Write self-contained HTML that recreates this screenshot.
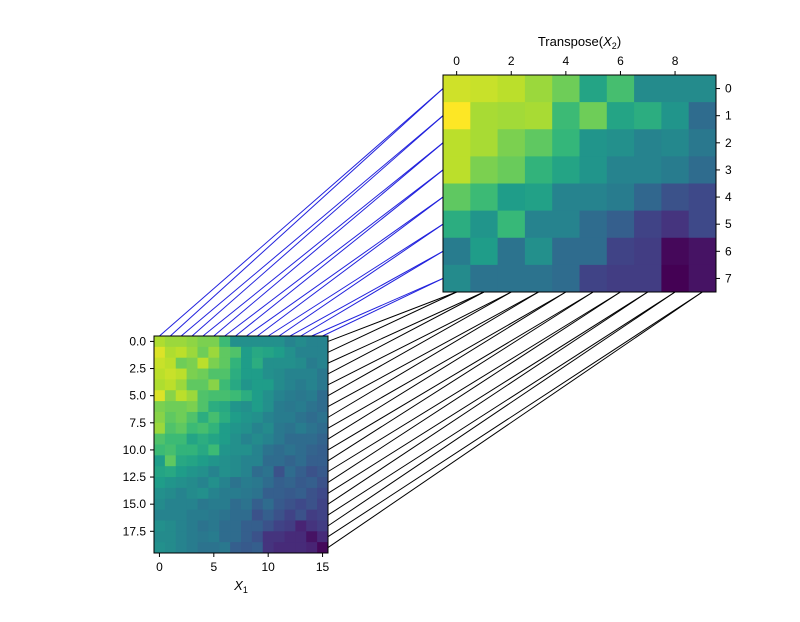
<!DOCTYPE html>
<html><head><meta charset="utf-8"><style>
body{margin:0;background:#fff;}
svg{display:block;font-family:"Liberation Sans","DejaVu Sans",sans-serif;}
</style></head><body>
<svg id="chart" width="800" height="622" viewBox="0 0 800 622">
<g id="lines"></g>
<g id="hmB"></g>
<g id="hmA"></g>
<g id="axes"></g>
</svg>
<script>
const x2Values = [
[0.93,0.92,0.90,0.85,0.78,0.58,0.70,0.48,0.48,0.48],
[1.00,0.87,0.86,0.87,0.68,0.78,0.58,0.62,0.52,0.35],
[0.90,0.87,0.80,0.75,0.66,0.52,0.50,0.45,0.47,0.40],
[0.90,0.80,0.77,0.65,0.58,0.52,0.45,0.45,0.42,0.35],
[0.75,0.68,0.55,0.57,0.45,0.45,0.42,0.33,0.25,0.22],
[0.62,0.52,0.67,0.45,0.45,0.35,0.30,0.20,0.15,0.22],
[0.42,0.55,0.38,0.50,0.35,0.35,0.20,0.18,0.02,0.05],
[0.48,0.38,0.38,0.38,0.35,0.20,0.18,0.18,0.00,0.05]];
const x1Values = [
[.88,.85,.85,.83,.80,.80,.68,.50,.50,.50,.50,.50,.45,.48,.45,.45],
[.95,.88,.90,.85,.78,.85,.75,.72,.55,.60,.58,.55,.50,.45,.45,.45],
[.92,.90,.78,.80,.90,.80,.75,.65,.55,.62,.50,.50,.50,.48,.42,.45],
[.90,.92,.90,.80,.78,.72,.72,.62,.55,.55,.50,.48,.45,.45,.45,.40],
[.88,.90,.85,.75,.75,.82,.68,.60,.52,.55,.55,.48,.45,.42,.45,.40],
[.95,.82,.90,.85,.72,.70,.70,.68,.62,.55,.50,.45,.42,.40,.42,.35],
[.80,.78,.78,.80,.72,.62,.60,.52,.50,.55,.50,.42,.40,.42,.38,.35],
[.82,.75,.78,.72,.62,.70,.62,.55,.52,.50,.45,.42,.42,.38,.35,.38],
[.85,.72,.75,.68,.70,.65,.55,.52,.50,.45,.48,.40,.38,.42,.38,.35],
[.72,.68,.68,.58,.62,.58,.55,.50,.45,.48,.45,.40,.35,.35,.35,.32],
[.68,.70,.65,.65,.60,.68,.52,.50,.50,.45,.38,.35,.38,.35,.32,.30],
[.55,.75,.60,.58,.55,.52,.50,.48,.45,.45,.35,.35,.32,.35,.30,.30],
[.58,.60,.55,.52,.50,.45,.50,.48,.45,.35,.38,.25,.35,.30,.25,.28],
[.55,.52,.50,.48,.45,.50,.45,.38,.42,.40,.35,.30,.32,.28,.30,.25],
[.50,.48,.45,.48,.50,.45,.42,.42,.40,.38,.30,.30,.28,.30,.25,.22],
[.48,.45,.45,.45,.40,.42,.42,.35,.38,.30,.35,.28,.25,.22,.25,.20],
[.45,.45,.45,.42,.42,.40,.38,.35,.35,.25,.30,.25,.20,.25,.18,.20],
[.50,.48,.45,.42,.38,.40,.35,.35,.30,.30,.25,.20,.18,.10,.15,.18],
[.48,.48,.45,.42,.40,.42,.35,.35,.30,.25,.15,.15,.12,.12,.05,.12],
[.50,.48,.45,.42,.38,.38,.40,.30,.28,.30,.15,.12,.12,.12,.10,.02]];
const x2TopTicks = [0,2,4,6,8];
const x2RightTicks = [0,1,2,3,4,5,6,7];
const x1LeftTicks = [0,2.5,5,7.5,10,12.5,15,17.5];
const x1BottomTicks = [0,5,10,15];

const NS="http://www.w3.org/2000/svg";
const V=[[68,1,84],[72,40,120],[62,74,137],[49,104,142],[38,130,142],[31,158,137],[53,183,121],[109,205,89],[180,222,44],[253,231,37]];
function viridis(t){t=Math.max(0,Math.min(1,t))*9;const i=Math.min(8,Math.floor(t)),f=t-i;
 const c=V[i].map((a,k)=>Math.round(a+(V[i+1][k]-a)*f));return `rgb(${c})`;}
function el(tag,attrs,parent){const e=document.createElementNS(NS,tag);for(const k in attrs)e.setAttribute(k,attrs[k]);parent.appendChild(e);return e;}

// geometry
const B={x0:443,y0:75,w:273,h:217,nr:x2Values.length,nc:x2Values[0].length};
const A={x0:154,y0:336,w:174,h:217,nr:x1Values.length,nc:x1Values[0].length};
const bx=j=>B.x0+(j+0.5)*B.w/B.nc, by=i=>B.y0+(i+0.5)*B.h/B.nr;
const ax=j=>A.x0+(j+0.5)*A.w/A.nc, ay=i=>A.y0+(i+0.5)*A.h/A.nr;

function drawHeat(M,G,g,nm){
 const cw=G.w/G.nc,ch=G.h/G.nr;
 M.forEach((row,i)=>row.forEach((v,j)=>{
  const r=el('rect',{x:G.x0+j*cw,y:G.y0+i*ch,width:cw+0.5,height:ch+0.5,fill:viridis(v)},g);
  
  
 }));
 const f=el('rect',{x:G.x0,y:G.y0,width:G.w,height:G.h,fill:'none',stroke:'#000','stroke-width':1},g);
 
 
}
drawHeat(x2Values,B,document.getElementById('hmB'),'x2');
drawHeat(x1Values,A,document.getElementById('hmA'),'x1');

const L=document.getElementById('lines');
for(let j=0;j<A.nc;j++){
 const l=el('line',{x1:ax(j),y1:A.y0,x2:B.x0,y2:by(Math.floor(j*B.nr/A.nc)),stroke:'#2222dd','stroke-width':1},L);
 
 
}
for(let i=0;i<A.nr;i++){
 const l=el('line',{x1:A.x0+A.w,y1:ay(i),x2:bx(Math.floor(i*B.nc/A.nr)),y2:B.y0+B.h,stroke:'#000','stroke-width':1},L);
 
 
}

const X=document.getElementById('axes');
function txt(s,x,y,anchor,nm,size){const t=el('text',{x:x,y:y,'text-anchor':anchor,'font-size':size||12,fill:'#000'},X);t.textContent=s;
 
 return t;}
x2TopTicks.forEach(v=>{const x=bx(v);el('line',{x1:x,y1:B.y0,x2:x,y2:B.y0-4,stroke:'#000'},X);txt(String(v),x,B.y0-10,'middle','x2-top-tick');});
x2RightTicks.forEach(v=>{const y=by(v);el('line',{x1:B.x0+B.w,y1:y,x2:B.x0+B.w+4,y2:y,stroke:'#000'},X);txt(String(v),B.x0+B.w+9,y+4,'start','x2-right-tick');});
x1LeftTicks.forEach(v=>{const y=ay(v);el('line',{x1:A.x0,y1:y,x2:A.x0-4,y2:y,stroke:'#000'},X);txt(v.toFixed(1),A.x0-8,y+4,'end','x1-left-tick');});
x1BottomTicks.forEach(v=>{const x=ax(v);el('line',{x1:x,y1:A.y0+A.h,x2:x,y2:A.y0+A.h+4,stroke:'#000'},X);txt(String(v),x,A.y0+A.h+18,'middle','x1-bottom-tick');});
const t1=txt('',B.x0+B.w/2,46,'middle','x2-title',13);t1.innerHTML='Transpose(<tspan font-style="italic">X</tspan><tspan font-size="9" dy="3">2</tspan><tspan dy="-3">)</tspan>';
const t2=txt('',A.x0+A.w/2,590,'middle','x1-label',13);t2.innerHTML='<tspan font-style="italic">X</tspan><tspan font-size="9" dy="3">1</tspan>';
</script>
</body></html>
